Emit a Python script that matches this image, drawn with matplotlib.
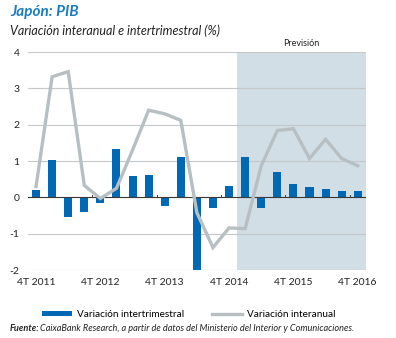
import numpy as np
import matplotlib
matplotlib.use("Agg")
import matplotlib.pyplot as plt
from matplotlib.lines import Line2D
from matplotlib.patches import Patch

plt.rcParams["font.family"] = ["Lato", "DejaVu Sans"]

# quarters from 4T 2011 to 4T 2016
quarters = ["4T 2011", "1T 2012", "2T 2012", "3T 2012", "4T 2012",
            "1T 2013", "2T 2013", "3T 2013", "4T 2013",
            "1T 2014", "2T 2014", "3T 2014", "4T 2014",
            "1T 2015", "2T 2015", "3T 2015", "4T 2015",
            "1T 2016", "2T 2016", "3T 2016", "4T 2016"]
intertrimestral = [0.2, 1.03, -0.53, -0.4, -0.15, 1.33, 0.58, 0.62, -0.23, 1.12, -1.99,
                   -0.28, 0.31, 1.11, -0.3, 0.69, 0.37, 0.29, 0.23, 0.18, 0.18]
interanual = [0.3, 3.32, 3.46, 0.33, -0.03, 0.25, 1.3, 2.4, 2.3, 2.12, -0.42,
              -1.38, -0.84, -0.86, 0.87, 1.84, 1.89, 1.07, 1.6, 1.07, 0.87]
forecast_start = "1T 2015"

BLUE = "#0068b4"
GRAY = "#b7bfc3"
SHADE = "#d1dee6"

x = np.arange(len(quarters))
fs = quarters.index(forecast_start)

fig = plt.figure(figsize=(3.96, 3.38), dpi=100)
ax = fig.add_axes([0.0707, 0.201, 0.853, 0.645])

ax.axvspan(fs - 0.5, len(quarters) - 0.5, color=SHADE, lw=0, zorder=0)
for yv in range(-2, 5):
    ax.axhline(yv, color="#c4c8ca", lw=0.8, zorder=1)
ax.axhline(0, color="#3a3a3a", lw=0.8, zorder=3)

ax.bar(x, intertrimestral, width=0.5, color=BLUE, zorder=2)
ax.plot(x, interanual, color=GRAY, lw=2.4, zorder=4, solid_joinstyle="miter")

# small separators on the zero line
for i in x:
    if i % 4 == 3:
        ax.plot([i + 0.5, i + 0.5], [0, 0.06], color="#3a3a3a", lw=0.7, zorder=3)

ax.set_xlim(-0.5, len(quarters) - 0.5)
ax.set_ylim(-2, 4)
ax.set_yticks(range(-2, 5))
ax.set_yticklabels([str(v) for v in range(-2, 5)], fontsize=7.5, color="#222222")
xt = [i for i, q in enumerate(quarters) if q.startswith("4T")]
ax.set_xticks(xt)
ax.set_xticklabels([quarters[i] for i in xt], fontsize=7.5, color="#222222")
ax.tick_params(length=0, pad=6)
ax.tick_params(axis="x", pad=6)
for s in ax.spines.values():
    s.set_visible(False)

ax.text((fs - 0.5 + len(quarters) - 0.5) / 2, 4.12, "Previsión", ha="center", va="bottom",
        fontsize=6.5, color="#222222")

fig.text(0.025, 0.965, "Japón: PIB", fontsize=11, fontweight="bold", style="italic",
         color="#1a7cc4", va="center")
fig.text(0.025, 0.908, "Variación interanual e intertrimestral (%)", fontsize=9,
         style="italic", color="#222222", va="center")

handles = [Patch(facecolor=BLUE, edgecolor="none"),
           Line2D([0], [0], color=GRAY, lw=2.4)]
fig.legend(handles, ["Variación intertrimestral", "Variación interanual"],
           loc="center", bbox_to_anchor=(0.476, 0.07), ncol=2, frameon=False,
           fontsize=7.2, handlelength=3, handleheight=0.45, handletextpad=0.5,
           columnspacing=2.8)

fig.text(0.025, 0.028, "Fuente:", fontsize=6.6, fontweight="bold", style="italic",
         color="#222222", va="center")
fig.text(0.101, 0.028, "CaixaBank Research, a partir de datos del Ministerio del Interior y Comunicaciones.",
         fontsize=6.6, style="italic", color="#222222", va="center")

fig.savefig("out.png", dpi=100)
